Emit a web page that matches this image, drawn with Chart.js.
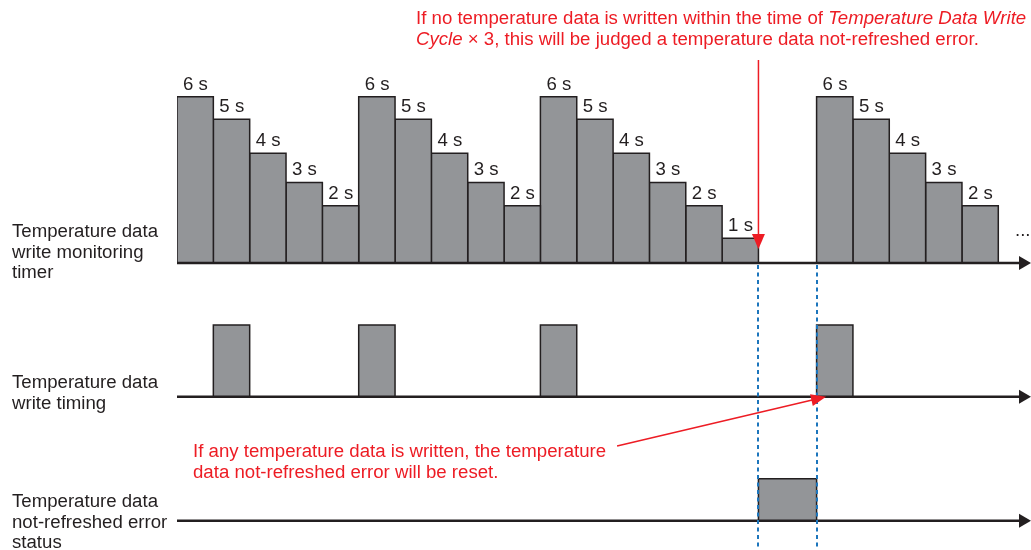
<!DOCTYPE html>
<html>
<head>
<meta charset="utf-8">
<script src="https://cdn.jsdelivr.net/npm/chart.js@4.4.0/dist/chart.umd.min.js"></script>
<style>
  html, body { margin: 0; padding: 0; background: #fff; overflow: hidden; }
</style>
</head>
<body>
<canvas id="myChart" width="1031" height="550"></canvas>
<script>
//-------------Data (x in timer slots of 1 s, heights as drawn, in timer seconds)
const timerStart  = [0, 1, 2, 3, 4,  5, 6, 7, 8, 9,  10, 11, 12, 13, 14, 15,  17.6, 18.6, 19.6, 20.6, 21.6]
const timerHeight = [5.96, 5.15, 3.93, 2.89, 2.05,
                     5.96, 5.15, 3.93, 2.89, 2.05,
                     5.96, 5.15, 3.93, 2.89, 2.05, 0.89,
                     5.96, 5.15, 3.93, 2.89, 2.05]
const timerLabels = ['6 s', '5 s', '4 s', '3 s', '2 s',
                     '6 s', '5 s', '4 s', '3 s', '2 s',
                     '6 s', '5 s', '4 s', '3 s', '2 s', '1 s',
                     '6 s', '5 s', '4 s', '3 s', '2 s']
const writeStart  = [1, 5, 10, 17.6]
const writeHeight = [2.57, 2.57, 2.57, 2.57]
const errorStart  = [16]
const errorEnd    = [17.6]
const errorHeight = [1.51]
const laneNames = [
  ['Temperature data', 'write monitoring', 'timer'],
  ['Temperature data', 'write timing'],
  ['Temperature data', 'not-refreshed error', 'status']
]

//-------------Layout
const laneBase = [0, -4.79, -9.24]   // baseline of each lane on the y scale
const DARK = '#231f20'
const RED = '#ed1c24'
const GREY = '#939598'
const BLUE = '#1c75bc'
const FONT = '"Liberation Sans", Arial, sans-serif'
const STRETCH = 1.035   // the source text is a bit wider than Arial

function box(x0, x1, base, h) {
  return {
    data: [{x: x0, y: base}, {x: x0, y: base + h}, {x: x1, y: base + h}, {x: x1, y: base}],
    fill: {value: base},
    backgroundColor: GREY,
    borderColor: DARK,
    borderWidth: 1.5,
    pointRadius: 0,
    tension: 0
  }
}

const datasets = []
timerStart.forEach((s, i) => datasets.push(box(s, s + 1, laneBase[0], timerHeight[i])))
writeStart.forEach((s, i) => datasets.push(box(s, s + 1, laneBase[1], writeHeight[i])))
errorStart.forEach((s, i) => datasets.push(box(s, errorEnd[i], laneBase[2], errorHeight[i])))

function arrowHead(ctx, tx, ty, angle, len, half) {
  ctx.save()
  ctx.translate(tx, ty)
  ctx.rotate(angle)
  ctx.beginPath()
  ctx.moveTo(0, 0)
  ctx.lineTo(-len, -half)
  ctx.lineTo(-len, half)
  ctx.closePath()
  ctx.fill()
  ctx.restore()
}

function text(ctx, t, x, y) {
  ctx.save()
  ctx.translate(x, y)
  ctx.scale(STRETCH, 1)
  ctx.fillText(t, 0, 0)
  ctx.restore()
  return ctx.measureText(t).width * STRETCH
}

function runs(ctx, parts, x, y) {
  parts.forEach(([t, it]) => {
    ctx.font = (it ? 'italic ' : '') + '18px ' + FONT
    x += text(ctx, t, x, y)
  })
}

const diagram = {
  id: 'diagram',
  afterDatasetsDraw(chart) {
    const {ctx, scales: {x, y}} = chart
    ctx.save()
    // lane axes with arrows
    ctx.strokeStyle = DARK
    ctx.fillStyle = DARK
    laneBase.forEach(b => {
      const py = y.getPixelForValue(b)
      ctx.lineWidth = 2.5
      ctx.beginPath()
      ctx.moveTo(x.getPixelForValue(0), py)
      ctx.lineTo(x.right - 8, py)
      ctx.stroke()
      arrowHead(ctx, x.right, py, 0, 12, 7)
    })
    // bar labels
    ctx.font = '18px ' + FONT
    ctx.textBaseline = 'alphabetic'
    timerLabels.forEach((t, i) => {
      text(ctx, t, x.getPixelForValue(timerStart[i]) + 6, y.getPixelForValue(laneBase[0] + timerHeight[i]) - 7)
    })
    text(ctx, '...', x.right - 16, y.getPixelForValue(laneBase[0]) - 27)
    // lane names
    const nameTop = [237, 388, 507]
    laneNames.forEach((lines, k) => {
      lines.forEach((t, j) => text(ctx, t, 12, nameTop[k] + j * 20.7))
    })
    // blue dotted lines at error start / reset
    ctx.strokeStyle = BLUE
    ctx.lineWidth = 2
    ctx.setLineDash([4, 3.5])
    ;[errorStart[0], errorEnd[0]].forEach(v => {
      const px = Math.round(x.getPixelForValue(v))
      ctx.beginPath()
      ctx.moveTo(px, y.getPixelForValue(laneBase[0]) + 2)
      ctx.lineTo(px, chart.height)
      ctx.stroke()
    })
    ctx.setLineDash([])
    // red callouts
    ctx.strokeStyle = RED
    ctx.fillStyle = RED
    ctx.lineWidth = 1.5
    const ax = x.getPixelForValue(errorStart[0])
    const tipY = y.getPixelForValue(laneBase[0]) - 14
    ctx.beginPath()
    ctx.moveTo(ax, 60)
    ctx.lineTo(ax, tipY - 12)
    ctx.stroke()
    arrowHead(ctx, ax, tipY, Math.PI / 2, 15, 6.5)

    const tx = x.getPixelForValue(12.11), ty = y.getPixelForValue(-6.56)
    const hx = x.getPixelForValue(17.86), hy = y.getPixelForValue(laneBase[1])
    const ang = Math.atan2(hy - ty, hx - tx)
    ctx.beginPath()
    ctx.moveTo(tx, ty)
    ctx.lineTo(hx - 12 * Math.cos(ang), hy - 12 * Math.sin(ang))
    ctx.stroke()
    arrowHead(ctx, hx, hy, ang, 15, 6)

    runs(ctx, [['If no temperature data is written within the time of ', false], ['Temperature Data Write', true]], 416, 24)
    runs(ctx, [['Cycle', true], [' \u00d7 3, this will be judged a temperature data not-refreshed error.', false]], 416, 45)
    runs(ctx, [['If any temperature data is written, the temperature', false]], 193, 456.5)
    runs(ctx, [['data not-refreshed error will be reset.', false]], 193, 478)
    ctx.restore()
  }
}

const ctx = document.getElementById('myChart').getContext('2d')
const Graph = new Chart(ctx, {
  type: 'line',
  data: { datasets: datasets },
  options: {
    responsive: false,
    animation: false,
    layout: { padding: { left: 177, right: 0, top: 0, bottom: 0 } },
    plugins: {
      legend: { display: false },
      tooltip: { enabled: false }
    },
    scales: {
      x: { type: 'linear', min: 0, max: 23.5, display: false },
      y: { type: 'linear', min: -10.287, max: 9.427, display: false }
    }
  },
  plugins: [diagram]
})
</script>
</body>
</html>
